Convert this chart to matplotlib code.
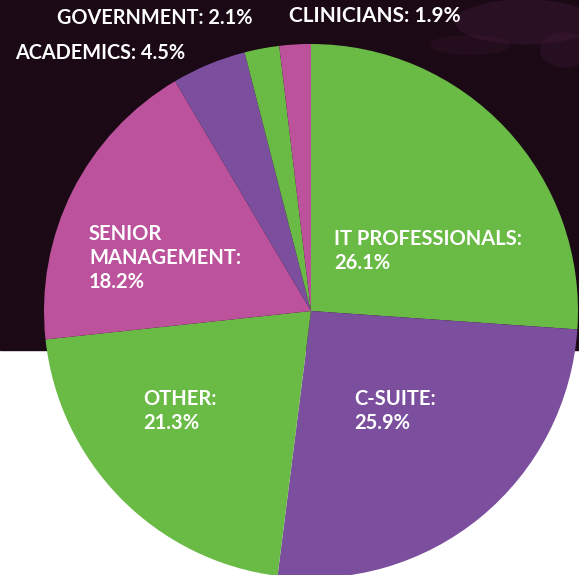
import matplotlib.pyplot as plt
from matplotlib.patches import Rectangle, Ellipse

# --- dados ---
categories = ['IT PROFESSIONALS', 'C-SUITE', 'OTHER', 'SENIOR MANAGEMENT',
              'ACADEMICS', 'GOVERNMENT', 'CLINICIANS']
shares = [26.1, 25.9, 21.3, 18.2, 4.5, 2.1, 1.9]

# --- cores ---
verde = '#6aba46'
roxo = '#7b4f9e'
rosa = '#bc529c'
fundo = '#1b0a16'
slice_colors = [verde, roxo, verde, rosa, roxo, verde, rosa]

W, H = 579, 575
plt.rcParams['font.family'] = ['Lato', 'DejaVu Sans']

fig = plt.figure(figsize=(W / 100, H / 100), dpi=100)
ax = fig.add_axes([0, 0, 1, 1])

# faixa escura no topo (foto de fundo simplificada)
ax.add_patch(Rectangle((0, H - 350), W, 350, color=fundo, zorder=0))
for (ex, ey, ew, eh, a) in [(525, H - 22, 140, 45, 0.18), (470, H - 45, 80, 20, 0.12),
                            (565, H - 50, 50, 35, 0.15)]:
    ax.add_patch(Ellipse((ex, ey), ew, eh, color='#6b2c5e', alpha=a, lw=0, zorder=0))

ax.pie(shares, colors=slice_colors, startangle=90, counterclock=False,
       center=(311, H - 311), radius=267, frame=True,
       wedgeprops=dict(linewidth=0))

# rótulos dentro das fatias: (x, baselines, linhas) em pixels da imagem
inside = {
    'IT PROFESSIONALS': (334, [245, 269], ['IT PROFESSIONALS:']),
    'C-SUITE': (354, [405, 429], ['C-SUITE:']),
    'OTHER': (143, [405, 429], ['OTHER:']),
    'SENIOR MANAGEMENT': (89, [240, 264, 288], ['SENIOR', 'MANAGEMENT:']),
}
# rótulos fora da pizza: (x, baseline, tamanho)
outside = {
    'ACADEMICS': (15, 59, 14.3),
    'GOVERNMENT': (57, 24, 14.3),
    'CLINICIANS': (289, 22, 15),
}

for nome, valor in zip(categories, shares):
    if nome in inside:
        x, bases, linhas = inside[nome]
        linhas = linhas + [f'{valor}%']
        for txt, b in zip(linhas, bases):
            ax.text(x, H - b, txt, color='white', fontsize=14.5, fontweight='bold',
                    ha='left', va='baseline')
    else:
        x, b, fs = outside[nome]
        ax.text(x, H - b, f'{nome}: {valor}%', color='white', fontsize=fs,
                fontweight='bold', ha='left', va='baseline')

ax.set_xlim(0, W)
ax.set_ylim(0, H)
ax.set_aspect('auto')
ax.axis('off')

fig.savefig('out.png', dpi=100, facecolor='white')
